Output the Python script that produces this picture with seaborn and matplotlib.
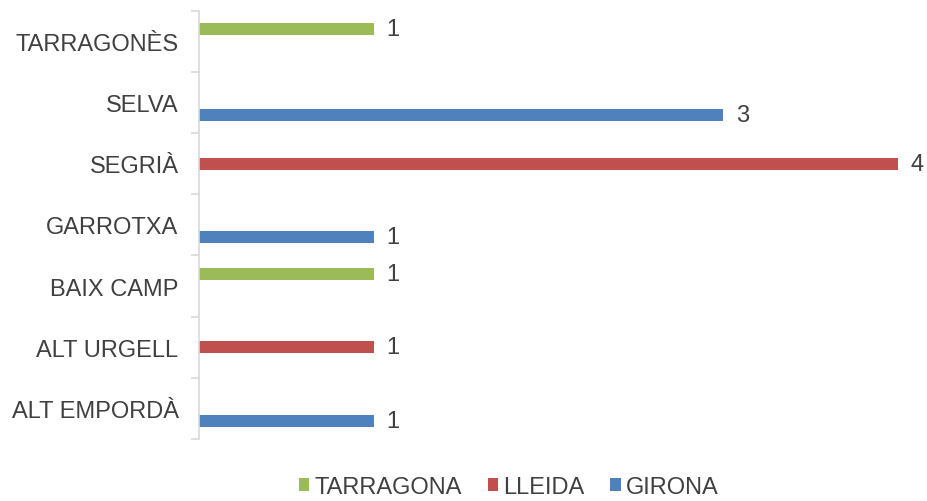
import numpy as np
import pandas as pd
import matplotlib
matplotlib.use("Agg")
import matplotlib.pyplot as plt
import seaborn as sns
from matplotlib.patches import Patch

categories = ["TARRAGONÈS", "SELVA", "SEGRIÀ", "GARROTXA", "BAIX CAMP", "ALT URGELL", "ALT EMPORDÀ"]
series = ["TARRAGONA", "LLEIDA", "GIRONA"]
tarragona = [1, None, None, None, 1, None, None]
lleida = [None, None, 4, None, None, 1, None]
girona = [None, 3, None, 1, None, None, 1]
colors = ["#9BBB59", "#C0504D", "#4F81BD"]

rows = []
for s, vals in zip(series, [tarragona, lleida, girona]):
    for c, v in zip(categories, vals):
        if v is not None:
            rows.append({"Comarca": c, "Província": s, "Valor": v})
df = pd.DataFrame(rows)

sns.set_theme(style="white")
plt.rcParams["font.family"] = ["Liberation Sans", "DejaVu Sans"]
txt = "#404040"
fs = 17

fig = plt.figure(figsize=(9.28, 5.02), dpi=100)
ax = fig.add_axes([0.2141, 0.1235, 0.9677 - 0.2141, 0.9767 - 0.1235])

sns.barplot(data=df, y="Comarca", x="Valor", hue="Província",
            order=categories, hue_order=series, palette=colors,
            orient="h", width=0.6, dodge=True, ax=ax, legend=False,
            edgecolor="none", saturation=1)

for cont in ax.containers:
    ax.bar_label(cont, fmt="%g", padding=9, fontsize=fs, color=txt, clip_on=False)

ax.set_xlim(0, 4)
ax.set_ylim(len(categories) - 0.5, -0.5)
ax.set_xlabel("")
ax.set_ylabel("")
ax.xaxis.set_visible(False)
for sp in ["top", "right", "bottom"]:
    ax.spines[sp].set_visible(False)
ax.spines["left"].set_color("#D9D9D9")
ax.spines["left"].set_linewidth(1.2)

ax.set_yticks(range(len(categories)))
ax.set_yticklabels(categories, fontsize=fs, color=txt)
ax.tick_params(axis="y", which="major", length=0, pad=14.5)
ax.set_yticks(np.arange(-0.5, len(categories), 1.0), minor=True)
ax.tick_params(axis="y", which="minor", length=6, width=1.2, color="#D9D9D9", left=True)

handles = [Patch(facecolor=c, edgecolor="none") for c in colors]
fig.legend(handles, series, loc="center", bbox_to_anchor=(0.548, 0.028), ncol=3,
           frameon=False, fontsize=fs, handlelength=0.45, handleheight=0.45,
           handletextpad=0.2, columnspacing=1.1, labelcolor=txt)

fig.savefig("out.png", dpi=100)
